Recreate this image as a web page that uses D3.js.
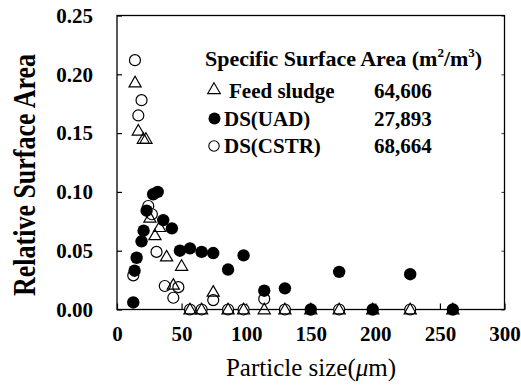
<!DOCTYPE html>
<html>
<head>
<meta charset="utf-8">
<script src="https://cdn.jsdelivr.net/npm/d3@7"></script>
<style>
  html, body { margin: 0; padding: 0; background: #fff; }
  svg { display: block; }
</style>
</head>
<body>
<svg id="chart" width="521" height="385"></svg>
<script>
// ---- data ----
const feedX = [14, 16.5, 20.4, 22.4, 25.5, 29.4, 33, 38.4, 43.6, 50, 56.5, 65.5, 74.5, 86, 98, 114, 130, 150, 172, 198, 227, 260];
const feedY = [0.193, 0.152, 0.145, 0.145, 0.078, 0.063, 0.070, 0.045, 0.021, 0.037, 0, 0, 0.015, 0, 0, 0, 0, 0, 0, 0, 0, 0];

const uadX = [12.6, 13.6, 15.2, 19, 20.6, 22.9, 28, 31.5, 35.8, 42.5, 48.7, 56.5, 65.5, 74.5, 86, 98, 114, 130, 150, 172, 198, 227, 260];
const uadY = [0.006, 0.033, 0.044, 0.058, 0.067, 0.084, 0.098, 0.100, 0.076, 0.069, 0.050, 0.052, 0.049, 0.048, 0.034, 0.046, 0.016, 0.018, 0, 0.032, 0, 0.030, 0];

const cstrX = [12.6, 13.9, 16.5, 19, 24.2, 27, 30.6, 37, 43.6, 47.5, 56.5, 65.5, 74.5, 86, 98, 114, 130, 172, 227];
const cstrY = [0.029, 0.212, 0.165, 0.178, 0.088, 0.081, 0.049, 0.020, 0.010, 0.019, 0, 0, 0.008, 0, 0, 0.009, 0, 0, 0];

const xTicks = [0, 50, 100, 150, 200, 250, 300];
const yTicks = [0, 0.05, 0.10, 0.15, 0.20, 0.25];

const legendTitle = "Specific Surface Area";
const legendNames = ["Feed sludge", "DS(UAD)", "DS(CSTR)"];
const legendValues = ["64,606", "27,893", "68,664"];

const xTitle = "Particle size(";
const yTitle = "Relative Surface Area";

// ---- layout ----
const FONT = "'Liberation Serif', 'Times New Roman', serif";
const svg = d3.select("#chart");
const L = 117, R = 504.5, T = 15.5, B = 309.5;
const x = d3.scaleLinear().domain([0, 300]).range([L, R]);
const y = d3.scaleLinear().domain([0, 0.25]).range([B, T]);

// frame
svg.append("rect").attr("x", L).attr("y", T).attr("width", R - L).attr("height", B - T)
  .attr("fill", "none").attr("stroke", "#000").attr("stroke-width", 1.3);

// axes with inward ticks
const xAxis = d3.axisBottom(x).tickValues(xTicks).tickSizeInner(-6).tickSizeOuter(0)
  .tickFormat(d3.format("d")).tickPadding(17);
const gx = svg.append("g").attr("transform", `translate(0,${B})`).call(xAxis)
  .attr("font-family", FONT);
gx.select(".domain").remove();
gx.selectAll(".tick line").attr("stroke", "#000").attr("stroke-width", 1.2);
gx.selectAll(".tick text").attr("font-size", 21).attr("font-weight", "bold").attr("dy", "0.71em");

const yAxis = d3.axisLeft(y).tickValues(yTicks).tickSizeInner(-5).tickSizeOuter(0)
  .tickFormat(d3.format(".2f")).tickPadding(24);
const gy = svg.append("g").attr("transform", `translate(${L},0)`).call(yAxis)
  .attr("font-family", FONT);
gy.select(".domain").remove();
gy.selectAll(".tick line").attr("stroke", "#000").attr("stroke-width", 1.2);
gy.selectAll(".tick text").attr("font-size", 21).attr("font-weight", "bold");

// right side small ticks
const yAxisR = d3.axisRight(y).tickValues(yTicks).tickSizeInner(-3).tickSizeOuter(0).tickFormat("");
const gyr = svg.append("g").attr("transform", `translate(${R},0)`).call(yAxisR);
gyr.select(".domain").remove();
gyr.selectAll(".tick line").attr("stroke", "#000").attr("stroke-width", 0.8);

// ---- markers ----
const triPath = (s) => d3.symbol().type(d3.symbolTriangle).size(s)();
const plot = svg.append("g");

// open circles (DS CSTR)
plot.selectAll("circle.cstr").data(cstrX.map((v, i) => [v, cstrY[i]])).join("circle")
  .attr("class", "cstr")
  .attr("cx", d => x(d[0])).attr("cy", d => y(d[1])).attr("r", 5.5)
  .attr("fill", "#fff").attr("stroke", "#000").attr("stroke-width", 1.2);

// triangles (Feed sludge)
plot.selectAll("path.feed").data(feedX.map((v, i) => [v, feedY[i]])).join("path")
  .attr("class", "feed")
  .attr("d", triPath(64))
  .attr("transform", d => `translate(${x(d[0])},${y(d[1]) + 0.8})`)
  .attr("fill", "none").attr("stroke", "#000").attr("stroke-width", 1.2);

// filled circles (DS UAD)
plot.selectAll("circle.uad").data(uadX.map((v, i) => [v, uadY[i]])).join("circle")
  .attr("class", "uad")
  .attr("cx", d => x(d[0])).attr("cy", d => y(d[1])).attr("r", 6.2)
  .attr("fill", "#000");

// ---- legend ----
const lg = svg.append("g").attr("font-family", FONT);
const lt = lg.append("text").attr("x", 205).attr("y", 66).attr("font-size", 22).attr("font-weight", "bold");
lt.append("tspan").text(legendTitle + " (m");
lt.append("tspan").attr("font-size", 13).attr("dy", -9).text("2");
lt.append("tspan").attr("dy", 9).text("/m");
lt.append("tspan").attr("font-size", 13).attr("dy", -9).text("3");
lt.append("tspan").attr("dy", 9).text(")");

const rowY = [98, 125.5, 153];
const nameX = [229, 224, 224];
lg.append("path").attr("d", triPath(70)).attr("transform", `translate(214,${rowY[0] - 8})`)
  .attr("fill", "none").attr("stroke", "#000").attr("stroke-width", 1.1);
lg.append("circle").attr("cx", 214.5).attr("cy", rowY[1] - 7).attr("r", 6).attr("fill", "#000");
lg.append("circle").attr("cx", 214).attr("cy", rowY[2] - 7).attr("r", 5.2)
  .attr("fill", "#fff").attr("stroke", "#000").attr("stroke-width", 1.1);

legendNames.forEach((n, i) => {
  lg.append("text").attr("x", nameX[i]).attr("y", rowY[i]).attr("font-size", 21)
    .attr("font-weight", "bold").text(n);
  lg.append("text").attr("x", 374).attr("y", rowY[i]).attr("font-size", 21)
    .attr("font-weight", "bold").text(legendValues[i]);
});

// ---- axis titles ----
const xt = svg.append("text").attr("x", 311).attr("y", 376).attr("text-anchor", "middle")
  .attr("font-family", FONT).attr("font-size", 25);
xt.append("tspan").text(xTitle);
xt.append("tspan").attr("font-style", "italic").text("\u03bc");
xt.append("tspan").text("m)");

svg.append("text").attr("transform", "translate(35,175) rotate(-90) scale(1,1.2)")
  .attr("text-anchor", "middle").attr("font-family", FONT).attr("font-size", 26).attr("font-weight", "bold")
  .text(yTitle);
</script>
</body>
</html>
